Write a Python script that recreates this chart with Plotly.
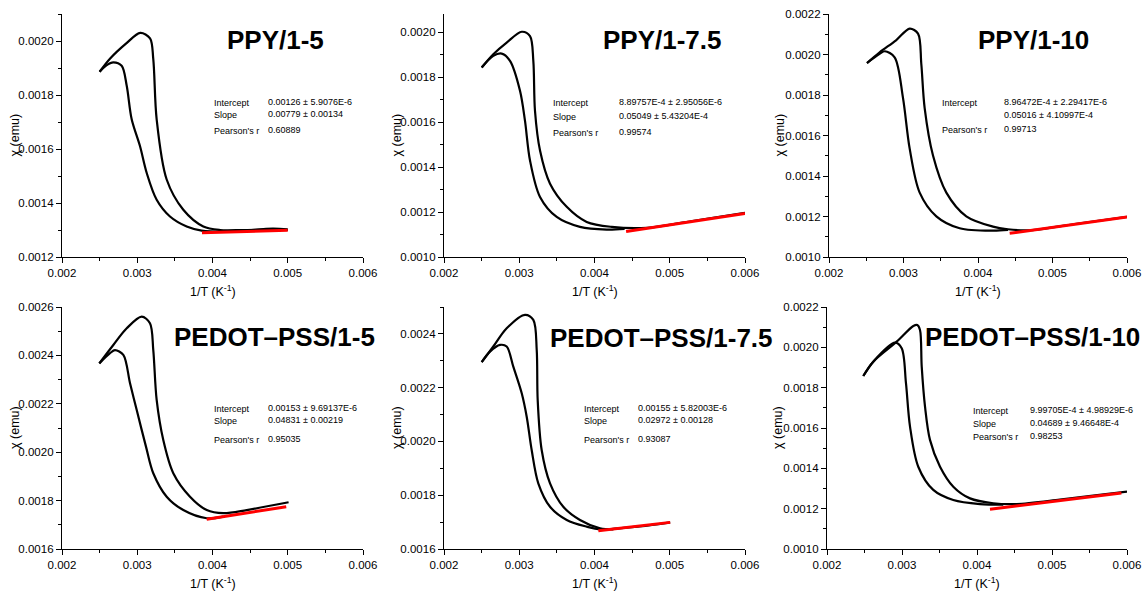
import plotly.graph_objects as go

# ---------------- data ----------------
titles = ["PPY/1-5", "PPY/1-7.5", "PPY/1-10",
          "PEDOT\u2013PSS/1-5", "PEDOT\u2013PSS/1-7.5", "PEDOT\u2013PSS/1-10"]

y_ranges = [[0.0012, 0.0021], [0.0010, 0.00208], [0.0010, 0.0022],
            [0.0016, 0.0026], [0.0016, 0.0025], [0.0010, 0.0022]]

# panel 1  PPY/1-5
p1_up_x = [0.0025, 0.00264, 0.00285, 0.00304, 0.00317, 0.003213, 0.003258, 0.003391, 0.003612, 0.003878, 0.0041, 0.0044, 0.0048, 0.0050]
p1_up_y = [0.001886, 0.001935, 0.00199, 0.00203, 0.00201, 0.001933, 0.00171, 0.001487, 0.001375, 0.001313, 0.0013, 0.0013, 0.001302, 0.0013]
p1_lo_x = [0.0025, 0.00259, 0.002682, 0.002793, 0.00286, 0.002926, 0.003037, 0.003126, 0.003258, 0.003435, 0.003657, 0.003856, 0.0043, 0.0048, 0.0050]
p1_lo_y = [0.001886, 0.00191, 0.001921, 0.001908, 0.001834, 0.00171, 0.00161, 0.001511, 0.001412, 0.00135, 0.001313, 0.001298, 0.001295, 0.001305, 0.001302]
p1_fit_x = [0.00386, 0.00500]
p1_fit_y = [0.001290, 0.001299]

# panel 2  PPY/1-7.5
p2_up_x = [0.002501, 0.002655, 0.002833, 0.003033, 0.003143, 0.003187, 0.003209, 0.003276, 0.003409, 0.003631, 0.003896, 0.004229, 0.0047, 0.0053, 0.0060]
p2_up_y = [0.001842, 0.001901, 0.001953, 0.002001, 0.001982, 0.001872, 0.00165, 0.001473, 0.001326, 0.001223, 0.001156, 0.001134, 0.00113, 0.00116, 0.001196]
p2_lo_x = [0.002501, 0.002655, 0.002767, 0.002877, 0.00301, 0.003076, 0.003143, 0.003276, 0.003498, 0.003807, 0.004162, 0.0044]
p2_lo_y = [0.001842, 0.001894, 0.001904, 0.001872, 0.001739, 0.001606, 0.001429, 0.001267, 0.001178, 0.001134, 0.001122, 0.001125]
p2_fit_x = [0.00442, 0.00600]
p2_fit_y = [0.001113, 0.001193]

# panel 3  PPY/1-10
p3_up_x = [0.00251, 0.00268, 0.00290, 0.003083, 0.003195, 0.003239, 0.003284, 0.003396, 0.003575, 0.003843, 0.004201, 0.0044, 0.0047, 0.0053, 0.0060]
p3_up_y = [0.001958, 0.002011, 0.00207, 0.002128, 0.002103, 0.001953, 0.001735, 0.001501, 0.001318, 0.001201, 0.00115, 0.001137, 0.001132, 0.001163, 0.001198]
p3_lo_x = [0.00251, 0.00268, 0.00275, 0.002881, 0.002993, 0.003083, 0.003217, 0.003441, 0.003754, 0.004201, 0.004402]
p3_lo_y = [0.001958, 0.002003, 0.002016, 0.001986, 0.001786, 0.001535, 0.001318, 0.001201, 0.001142, 0.00113, 0.001134]
p3_fit_x = [0.004425, 0.00600]
p3_fit_y = [0.001117, 0.001197]

# panel 4  PEDOT-PSS/1-5
p4_up_x = [0.002496, 0.002682, 0.00286, 0.003059, 0.003169, 0.003213, 0.003258, 0.003346, 0.003479, 0.003701, 0.003923, 0.004144, 0.004455, 0.005011]
p4_up_y = [0.002367, 0.002443, 0.002512, 0.00256, 0.002533, 0.002422, 0.002216, 0.00205, 0.001913, 0.001816, 0.001761, 0.001748, 0.001761, 0.001793]
p4_lo_x = [0.002496, 0.002638, 0.002704, 0.002815, 0.002904, 0.002993, 0.003116, 0.003213, 0.003391, 0.003612, 0.003923, 0.004144]
p4_lo_y = [0.002367, 0.002409, 0.002422, 0.002402, 0.002285, 0.002174, 0.002023, 0.001913, 0.001816, 0.001761, 0.001727, 0.001734]
p4_fit_x = [0.003923, 0.00498]
p4_fit_y = [0.001723, 0.001775]

# panel 5  PEDOT-PSS/1-7.5
p5_up_x = [0.002501, 0.002655, 0.002833, 0.003076, 0.003187, 0.003232, 0.003245, 0.003298, 0.003409, 0.003585, 0.003807, 0.004073, 0.00425]
p5_up_y = [0.002295, 0.002353, 0.002421, 0.002471, 0.002452, 0.002341, 0.002154, 0.001968, 0.001844, 0.001757, 0.001708, 0.001677, 0.001673]
p5_lo_x = [0.002501, 0.002611, 0.002744, 0.002833, 0.002921, 0.003033, 0.003099, 0.003165, 0.003253, 0.003409, 0.003631, 0.003897, 0.004073, 0.0046, 0.005006]
p5_lo_y = [0.002295, 0.002334, 0.002359, 0.002353, 0.002278, 0.002179, 0.002092, 0.001968, 0.001844, 0.001757, 0.001708, 0.001683, 0.001673, 0.001684, 0.001699]
p5_fit_x = [0.004051, 0.005006]
p5_fit_y = [0.001668, 0.001699]

# panel 6  PEDOT-PSS/1-10
p6_up_x = [0.002484, 0.002617, 0.002929, 0.003151, 0.003204, 0.00324, 0.003263, 0.003307, 0.003373, 0.003507, 0.003684, 0.003907, 0.004217, 0.004529, 0.005104, 0.005548, 0.0060]
p6_up_y = [0.001858, 0.001929, 0.002028, 0.002106, 0.002111, 0.002086, 0.001904, 0.001706, 0.001541, 0.001408, 0.001309, 0.001251, 0.001227, 0.001223, 0.001245, 0.001265, 0.001285]
p6_lo_x = [0.002484, 0.002617, 0.002907, 0.002996, 0.003053, 0.003107, 0.003217, 0.003417, 0.003684, 0.00404, 0.004351]
p6_lo_y = [0.001858, 0.001929, 0.002023, 0.001995, 0.001822, 0.001607, 0.001408, 0.001293, 0.001243, 0.001223, 0.00122]
p6_fit_x = [0.004173, 0.005925]
p6_fit_y = [0.001197, 0.001278]

fit_labels = [["Intercept", "Slope", "Pearson's r"],
              ["Intercept", "Slope", "Pearson's r"],
              ["Intercept", "", "Pearson's r"],
              ["Intercept", "Slope", "Pearson's r"],
              ["Intercept", "Slope", "Pearson's r"],
              ["Intercept", "Slope", "Pearson's r"]]
fit_values = [["0.00126 \u00b1 5.9076E-6", "0.00779 \u00b1 0.00134", "0.60889"],
              ["8.89757E-4 \u00b1 2.95056E-6", "0.05049 \u00b1 5.43204E-4", "0.99574"],
              ["8.96472E-4 \u00b1 2.29417E-6", "0.05016 \u00b1 4.10997E-4", "0.99713"],
              ["0.00153 \u00b1 9.69137E-6", "0.04831 \u00b1 0.00219", "0.95035"],
              ["0.00155 \u00b1 5.82003E-6", "0.02972 \u00b1 0.00128", "0.93087"],
              ["9.99705E-4 \u00b1 4.98929E-6", "0.04689 \u00b1 9.46648E-4", "0.98253"]]

panels = [(p1_up_x, p1_up_y, p1_lo_x, p1_lo_y, p1_fit_x, p1_fit_y),
          (p2_up_x, p2_up_y, p2_lo_x, p2_lo_y, p2_fit_x, p2_fit_y),
          (p3_up_x, p3_up_y, p3_lo_x, p3_lo_y, p3_fit_x, p3_fit_y),
          (p4_up_x, p4_up_y, p4_lo_x, p4_lo_y, p4_fit_x, p4_fit_y),
          (p5_up_x, p5_up_y, p5_lo_x, p5_lo_y, p5_fit_x, p5_fit_y),
          (p6_up_x, p6_up_y, p6_lo_x, p6_lo_y, p6_fit_x, p6_fit_y)]

# ---------------- layout geometry (pixels) ----------------
W, H = 1145, 592
col_px = [(62, 363), (444, 745), (829, 1127), (62, 363), (444, 745), (827, 1127)]
row_px = [(14, 257)] * 3 + [(307, 549)] * 3
title_pos = [(275, 40), (662, 40), (1033, 40), (274, 337), (661, 338), (1032, 337)]
fit_lab_x = [212, 551, 940, 212, 582, 971]
fit_val_x = [266, 617, 1002, 266, 636, 1028]
fit_rows_y = [(103, 115, 131), (103, 117, 133), (103, 116, 130),
              (409, 421, 440), (409, 421, 440), (411, 424, 437)]
ytitle_x = [15, 397, 780, 15, 397, 778]

FONT = "Liberation Sans, Arial, sans-serif"

def px(x):
    return x / W

def py(y):
    return 1 - y / H

fig = go.Figure()
layout = dict(width=W, height=H, margin=dict(l=0, r=0, t=0, b=0, autoexpand=False),
              paper_bgcolor="white", plot_bgcolor="white", showlegend=False,
              font=dict(family=FONT, color="black"))
annotations = []

for i, (ux, uy, lx, ly, fx, fy) in enumerate(panels):
    n = "" if i == 0 else str(i + 1)
    xa, ya = "x" + n, "y" + n
    for xs, ys in ((ux, uy), (lx, ly)):
        fig.add_trace(go.Scatter(x=xs, y=ys, mode="lines", xaxis=xa, yaxis=ya,
                                 line=dict(color="black", width=2.2, shape="spline", smoothing=0.9),
                                 hoverinfo="skip", cliponaxis=False))
    fig.add_trace(go.Scatter(x=fx, y=fy, mode="lines", xaxis=xa, yaxis=ya,
                             line=dict(color="#ff0000", width=3), hoverinfo="skip"))
    x0, x1 = col_px[i]
    y0, y1 = row_px[i]
    axis_common = dict(showgrid=False, zeroline=False, showline=True, linecolor="black",
                       linewidth=1.3, ticks="outside", ticklen=5, tickwidth=1, tickcolor="black",
                       tickfont=dict(family=FONT, size=11.5, color="black"), mirror=False,
                       automargin=False, fixedrange=True)
    layout["xaxis" + n] = dict(axis_common, domain=[px(x0), px(x1)], anchor=ya,
                               range=[0.002, 0.006], dtick=0.001, tick0=0.002, tickformat=".3f",
                               minor=dict(dtick=0.0005, ticklen=3, ticks="outside", tickcolor="black"))
    layout["yaxis" + n] = dict(axis_common, domain=[py(y1), py(y0)], anchor=xa,
                               range=y_ranges[i], dtick=0.0002, tick0=0, tickformat=".4f",
                               minor=dict(dtick=0.0001, ticklen=3, ticks="outside", tickcolor="black"))
    # panel title
    tx, ty = title_pos[i]
    annotations.append(dict(text="<b>%s</b>" % titles[i], x=px(tx), y=py(ty), xref="paper", yref="paper",
                            xanchor="center", yanchor="middle", showarrow=False,
                            font=dict(family=FONT, size=26, color="black")))
    # axis titles
    xmid = (x0 + x1) / 2
    annotations.append(dict(text="1/T (K<sup>-1</sup>)", x=px(xmid), y=py(y1 + 34), xref="paper", yref="paper",
                            xanchor="center", yanchor="middle", showarrow=False,
                            font=dict(family=FONT, size=12.5, color="black")))
    annotations.append(dict(text="\u03c7\u00a0(emu)", x=px(ytitle_x[i]), y=py((y0 + y1) / 2), xref="paper", yref="paper",
                            xanchor="center", yanchor="middle", showarrow=False, textangle=-90,
                            font=dict(family=FONT, size=12.5, color="black")))
    # fit results text
    for k in range(3):
        yy = fit_rows_y[i][k]
        if fit_labels[i][k]:
            annotations.append(dict(text=fit_labels[i][k], x=px(fit_lab_x[i]), y=py(yy), xref="paper", yref="paper",
                                    xanchor="left", yanchor="middle", showarrow=False,
                                    font=dict(family=FONT, size=9, color="black")))
        annotations.append(dict(text=fit_values[i][k], x=px(fit_val_x[i]), y=py(yy - 1), xref="paper", yref="paper",
                                xanchor="left", yanchor="middle", showarrow=False,
                                font=dict(family=FONT, size=9, color="black")))

layout["annotations"] = annotations
fig.update_layout(**layout)
fig.write_html("out.html")
